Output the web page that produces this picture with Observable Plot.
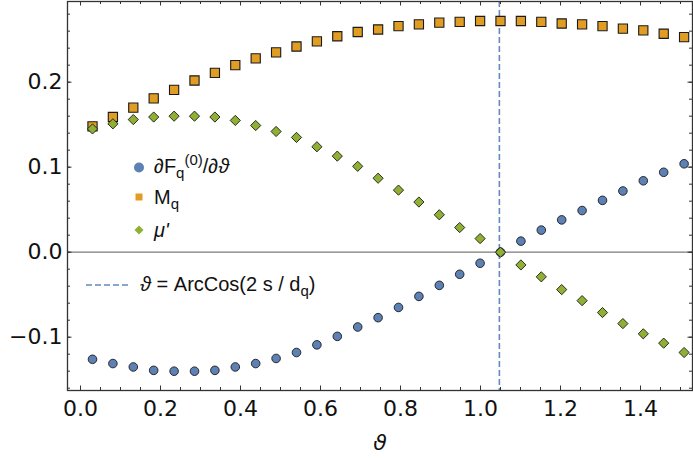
<!DOCTYPE html>
<html>
<head>
<meta charset="utf-8">
<script src="https://cdn.jsdelivr.net/npm/d3@7"></script>
<script src="https://cdn.jsdelivr.net/npm/@observablehq/plot@0.6"></script>
<style>
  html, body { margin: 0; padding: 0; background: #fff; }
  #chart { position: relative; width: 693px; height: 458px; }
  #chart svg { display: block; }
  #legend { position: absolute; left: 0; top: 0; pointer-events: none; }
</style>
</head>
<body>
<div id="chart"></div>
<script>
// ---- data ----
const theta = [0.030, 0.081, 0.132, 0.183, 0.234, 0.285, 0.336, 0.387, 0.438, 0.489,
               0.540, 0.591, 0.642, 0.693, 0.744, 0.795, 0.846, 0.897, 0.948, 0.999,
               1.050, 1.101, 1.152, 1.203, 1.254, 1.305, 1.356, 1.407, 1.458, 1.509];
const dFq = [-0.126, -0.131, -0.135, -0.139, -0.140, -0.140, -0.139, -0.135, -0.131, -0.125,
             -0.118, -0.109, -0.099, -0.088, -0.077, -0.065, -0.052, -0.039, -0.026, -0.013,
              0.000,  0.013,  0.026,  0.038,  0.049,  0.061,  0.072,  0.084,  0.094,  0.104];
const Mq  = [0.148, 0.159, 0.170, 0.181, 0.191, 0.202, 0.211, 0.220, 0.228, 0.235,
             0.242, 0.248, 0.254, 0.259, 0.262, 0.266, 0.268, 0.270, 0.271, 0.272,
             0.272, 0.272, 0.271, 0.269, 0.268, 0.266, 0.263, 0.261, 0.257, 0.253];
const muP = [0.145, 0.151, 0.156, 0.159, 0.160, 0.160, 0.159, 0.155, 0.149, 0.142,
             0.135, 0.124, 0.113, 0.101, 0.087, 0.073, 0.059, 0.044, 0.029, 0.016,
             0.000, -0.015, -0.029, -0.044, -0.057, -0.071, -0.084, -0.096, -0.107, -0.118];
const thetaCrit = 1.0472; // ArcCos(2 s / d_q)

const xMajor = [0, 0.2, 0.4, 0.6, 0.8, 1.0, 1.2, 1.4];
const xMinor = [0, 0.05, 0.1, 0.15, 0.2, 0.25, 0.3, 0.35, 0.4, 0.45, 0.5, 0.55, 0.6, 0.65, 0.7, 0.75,
                0.8, 0.85, 0.9, 0.95, 1.0, 1.05, 1.1, 1.15, 1.2, 1.25, 1.3, 1.35, 1.4, 1.45, 1.5];
const yMajor = [-0.1, 0, 0.1, 0.2];
const yMinor = [-0.16, -0.14, -0.12, -0.1, -0.08, -0.06, -0.04, -0.02, 0, 0.02, 0.04, 0.06, 0.08,
                0.1, 0.12, 0.14, 0.16, 0.18, 0.2, 0.22, 0.24, 0.26, 0.28];
const xDomain = [-0.0325, 1.53];
const yDomain = [-0.1627, 0.2949];

const colors = {blue: "#5E81B5", orange: "#E19C24", green: "#8FB032"};
const fmt = d => d.toFixed(1).replace("-", "\u2212");

const rows = theta.map((t, i) => ({t, dF: dFq[i], M: Mq[i], mu: muP[i]}));

const frameColor = "#333";
const tickLen = 4.5, minorLen = 3;

const plot = Plot.plot({
  width: 693,
  height: 458,
  marginLeft: 67,
  marginRight: 1,
  marginTop: 1,
  marginBottom: 68,
  style: {fontSize: "22px", fontFamily: "DejaVu Sans", color: "#111", background: "#fff"},
  x: {domain: xDomain, ticks: xMajor, tickFormat: fmt, tickSize: 0, tickPadding: 10, label: null},
  y: {domain: yDomain, ticks: yMajor, tickFormat: fmt, tickSize: 0, tickPadding: 5, label: null},
  marks: [
    Plot.ruleY([0], {stroke: "#7a7a7a", strokeWidth: 1.3}),
    Plot.ruleX([thetaCrit], {stroke: "#6689bd", strokeWidth: 1.6, strokeDasharray: "6,3"}),
    // ticks (inside the frame, mirrored)
    Plot.ruleX(xMinor, {y1: yDomain[0], y2: yDomain[0], insetBottom: minorLen, stroke: frameColor, strokeWidth: 1}),
    Plot.ruleX(xMinor, {y1: yDomain[1], y2: yDomain[1], insetTop: minorLen, stroke: frameColor, strokeWidth: 1}),
    Plot.ruleX(xMajor, {y1: yDomain[0], y2: yDomain[0], insetBottom: tickLen, stroke: frameColor, strokeWidth: 1}),
    Plot.ruleX(xMajor, {y1: yDomain[1], y2: yDomain[1], insetTop: tickLen, stroke: frameColor, strokeWidth: 1}),
    Plot.ruleY(yMinor, {x1: xDomain[0], x2: xDomain[0], insetRight: -minorLen, stroke: frameColor, strokeWidth: 1}),
    Plot.ruleY(yMinor, {x1: xDomain[1], x2: xDomain[1], insetLeft: -minorLen, stroke: frameColor, strokeWidth: 1}),
    Plot.ruleY(yMajor, {x1: xDomain[0], x2: xDomain[0], insetRight: -tickLen, stroke: frameColor, strokeWidth: 1}),
    Plot.ruleY(yMajor, {x1: xDomain[1], x2: xDomain[1], insetLeft: -tickLen, stroke: frameColor, strokeWidth: 1}),
    Plot.frame({stroke: frameColor, strokeWidth: 1.3}),
    // series
    Plot.dot(rows, {x: "t", y: "dF", r: 4.3, fill: colors.blue, stroke: "#1a1a1a", strokeWidth: 0.9}),
    Plot.dot(rows, {x: "t", y: "M", symbol: "square", r: 5.2, fill: colors.orange, stroke: "#1a1a1a", strokeWidth: 1.1}),
    Plot.dot(rows, {x: "t", y: "mu", symbol: "diamond2", r: 4.6, fill: colors.green, stroke: "#1a1a1a", strokeWidth: 0.9}),
    // axis label
    Plot.text(["\u03D1"], {frameAnchor: "bottom", dy: 59, text: d => d, fontStyle: "italic", fontSize: 22, fill: "#111"})
  ]
});

const chart = document.getElementById("chart");
chart.appendChild(plot);

// ---- legend overlay (inside plot area, like the reference) ----
const lg = d3.select(chart).append("svg")
  .attr("id", "legend")
  .attr("width", 693).attr("height", 458)
  .style("font-family", "'Liberation Sans', Arial, sans-serif")
  .style("font-size", "20px")
  .style("fill", "#111");

lg.append("circle").attr("cx", 139).attr("cy", 167.5).attr("r", 5).attr("fill", colors.blue);
lg.append("rect").attr("x", 135.5).attr("y", 193.5).attr("width", 7).attr("height", 7).attr("fill", colors.orange);
lg.append("path").attr("d", "M139,225.5 L143.5,230 L139,234.5 L134.5,230 Z").attr("fill", colors.green);
lg.append("line").attr("x1", 86).attr("x2", 131).attr("y1", 285).attr("y2", 285)
  .attr("stroke", "#6689bd").attr("stroke-width", 1.6).attr("stroke-dasharray", "6,3");

const t1 = lg.append("text").attr("x", 154).attr("y", 173);
t1.append("tspan").text("\u2202F");
t1.append("tspan").attr("dy", 5).attr("font-size", 15).text("q");
t1.append("tspan").attr("dy", -13).attr("font-size", 15).text("(0)");
t1.append("tspan").attr("dy", 8).text("/\u2202");
t1.append("tspan").attr("font-style", "italic").text("\u03D1");

const t2 = lg.append("text").attr("x", 154).attr("y", 204);
t2.append("tspan").text("M");
t2.append("tspan").attr("dy", 5).attr("font-size", 15).text("q");

const t3 = lg.append("text").attr("x", 154).attr("y", 237);
t3.append("tspan").attr("font-style", "italic").text("\u03BC'");

const t4 = lg.append("text").attr("x", 140).attr("y", 291);
t4.append("tspan").attr("font-style", "italic").text("\u03D1");
t4.append("tspan").text(" = ArcCos(2 s / d");
t4.append("tspan").attr("dy", 5).attr("font-size", 15).text("q");
t4.append("tspan").attr("dy", -5).text(")");
</script>
</body>
</html>
